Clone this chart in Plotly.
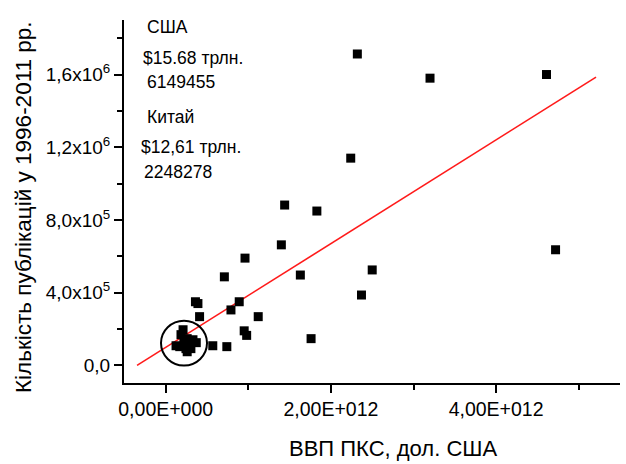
import plotly.graph_objects as go

# GDP PPP (USD) and number of publications 1996-2011
gdp = [2.32e12, 3.20e12, 4.61e12, 2.24e12, 1.44e12, 1.83e12, 1.40e12, 4.72e12,
       0.96e12, 1.63e12, 2.50e12, 0.71e12, 2.37e12, 0.89e12, 0.36e12, 0.39e12,
       0.41e12, 0.79e12, 1.12e12, 0.95e12, 0.98e12, 1.76e12, 0.57e12, 0.74e12,
       0.125e12, 0.21e12, 0.185e12, 0.26e12, 0.33e12, 0.37e12, 0.245e12,
       0.305e12, 0.26e12, 0.17e12, 0.29e12, 0.22e12]
pubs = [1.713e6, 1.58e6, 1.60e6, 1.14e6, 8.82e5, 8.49e5, 6.63e5, 6.36e5,
        5.9e5, 4.97e5, 5.25e5, 4.87e5, 3.87e5, 3.5e5, 3.5e5, 3.4e5,
        2.68e5, 3.05e5, 2.68e5, 1.9e5, 1.65e5, 1.47e5, 1.08e5, 1.03e5,
        1.08e5, 1.96e5, 1.69e5, 1.47e5, 1.41e5, 1.25e5, 0.92e5,
        0.92e5, 0.75e5, 1.03e5, 1.19e5, 1.30e5]

# linear fit line
fit_x = [-0.347e12, 5.21e12]
fit_slope = 2.854e-7
fit_intercept = 0.99e5
fit_y = [fit_intercept + fit_slope * v for v in fit_x]

y_tickvals = [0, 4e5, 8e5, 1.2e6, 1.6e6]
y_ticktext = ["0,0", "4,0x10<sup>5</sup>", "8,0x10<sup>5</sup>",
              "1,2x10<sup>6</sup>", "1,6x10<sup>6</sup>"]
x_tickvals = [0, 2e12, 4e12]
x_ticktext = ["0,00E+000", "2,00E+012", "4,00E+012"]

notes = ["США", "$15.68 трлн.", "6149455", "Китай", "$12,61 трлн.", "2248278"]
notes_x = [145, 141, 145, 145, 139, 142]
notes_y = [27, 58, 82, 117, 147, 172]

FONT = "Liberation Sans, Arial, sans-serif"
L, R, T, B = 124, 620, 20, 383
W, H = 626, 464

fig = go.Figure()
fig.add_trace(go.Scatter(x=fit_x, y=fit_y, mode="lines",
                         line=dict(color="#ff1a1a", width=1.6),
                         hoverinfo="skip", showlegend=False))
fig.add_trace(go.Scatter(x=gdp, y=pubs, mode="markers",
                         marker=dict(symbol="square", size=9, color="black"),
                         showlegend=False))

fig.add_shape(type="circle", xref="x", yref="y",
              x0=-0.057e12, x1=0.50e12, y0=-0.01e5, y1=2.46e5,
              line=dict(color="black", width=2))

for t, px, py in zip(notes, notes_x, notes_y):
    fig.add_annotation(text=t, xref="paper", yref="paper",
                       x=(px - L) / (R - L), y=(B - py) / (B - T),
                       xanchor="left", yanchor="middle", showarrow=False,
                       font=dict(family=FONT, size=17.5, color="black"))

fig.add_annotation(text="ВВП ПКС, дол. США", xref="paper", yref="paper",
                   x=(393 - L) / (R - L), y=(B - 448) / (B - T),
                   xanchor="center", yanchor="middle", showarrow=False,
                   font=dict(family=FONT, size=22, color="black"))
fig.add_annotation(text="Кількість публікацій у 1996-2011 рр.", xref="paper", yref="paper",
                   x=(23 - L) / (R - L), y=(B - 207) / (B - T), textangle=-90,
                   xanchor="center", yanchor="middle", showarrow=False,
                   font=dict(family=FONT, size=22.5, color="black"))

fig.update_xaxes(range=[-0.505e12, 5.5e12], tickvals=x_tickvals, ticktext=x_ticktext,
                 ticks="outside", ticklen=8, tickwidth=1.5, tickcolor="black",
                 minor=dict(tickvals=[1e12, 3e12, 5e12], ticks="outside", ticklen=5,
                            tickwidth=1.5, tickcolor="black"),
                 showline=True, linecolor="black", linewidth=2, showgrid=False,
                 zeroline=False, tickfont=dict(family=FONT, size=19.5, color="black"))
fig.update_yaxes(range=[-0.97e5, 19.0e5], tickvals=y_tickvals, ticktext=y_ticktext,
                 ticks="outside", ticklen=8, tickwidth=1.5, tickcolor="black",
                 minor=dict(tickvals=[2e5, 6e5, 1.0e6, 1.4e6, 1.8e6], ticks="outside",
                            ticklen=5, tickwidth=1.5, tickcolor="black"),
                 showline=True, linecolor="black", linewidth=2, showgrid=False,
                 zeroline=False, tickfont=dict(family=FONT, size=19, color="black"))

fig.update_layout(width=W, height=H, margin=dict(l=L, r=W - R, t=T, b=H - B),
                  plot_bgcolor="white", paper_bgcolor="white")

fig.write_html("out.html", config={"displayModeBar": False},
               post_script="document.body.style.margin='0';document.body.style.padding='0';")
